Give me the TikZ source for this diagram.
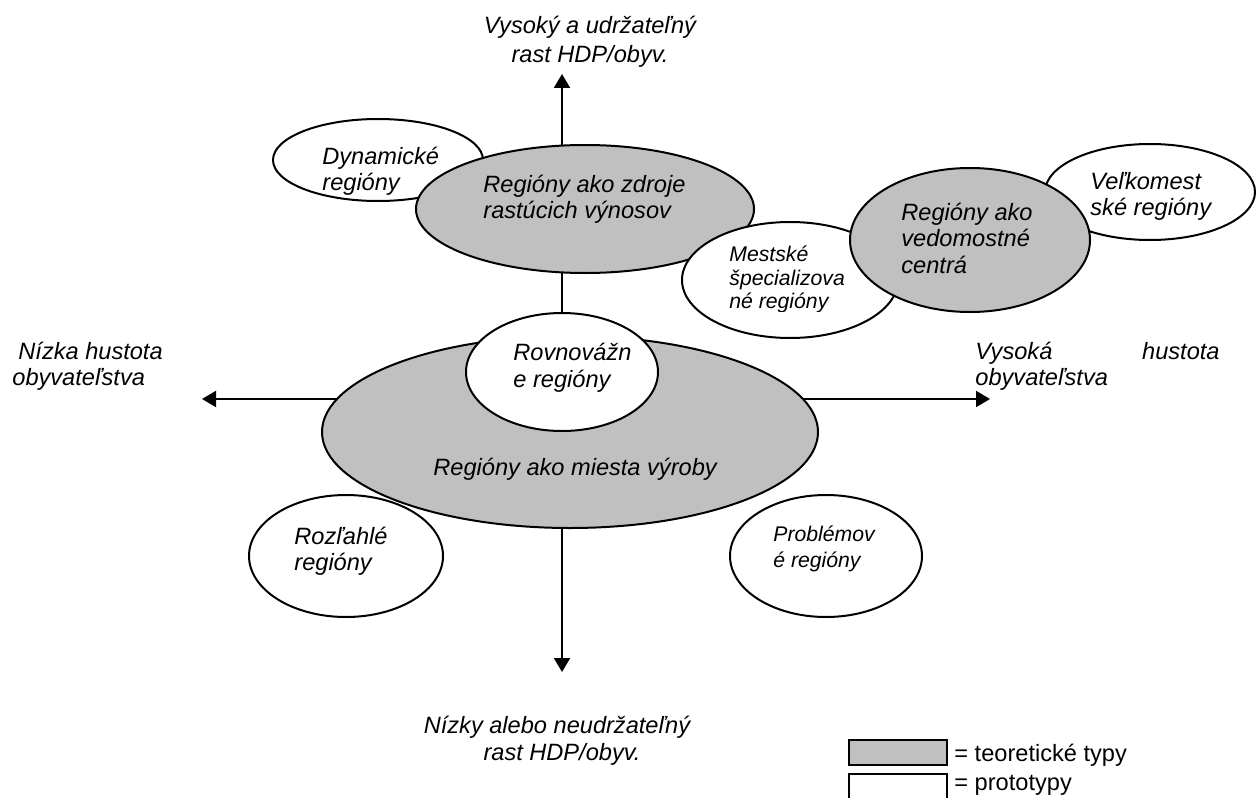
\documentclass[tikz,border=0pt]{standalone}
\usepackage{fontspec}
\setmainfont{Liberation Sans}
\usetikzlibrary{shapes.geometric,arrows.meta}
\definecolor{tgray}{RGB}{192,192,192}
\newcommand\fm{\fontsize{11.8}{13}\selectfont\itshape}
\newcommand\fsm{\fontsize{10.6}{12}\selectfont\itshape}
\newcommand\fup{\fontsize{11.8}{13}\selectfont}
\begin{document}
\begin{tikzpicture}[x=0.5pt,y=-0.5pt,
  oval/.style={ellipse, draw, line width=1pt, inner sep=0pt},
  theo/.style={oval, fill=tgray},
  proto/.style={oval, fill=white},
  txt/.style={anchor=base west, inner sep=0pt, font=\fm},
  stxt/.style={anchor=base west, inner sep=0pt, font=\fsm},
  ctxt/.style={anchor=base, inner sep=0pt, font=\fm},
  axis/.style={line width=1pt, -{Triangle[length=7pt,width=8pt]}},
  legbox/.style={draw, line width=1pt}
]
\useasboundingbox (0,0) rectangle (1257,797);

% axes (drawn first, ellipses cover them)
\coordinate (origin) at (562,399);
\coordinate (tipN) at (562,74);
\coordinate (tipS) at (562,672);
\coordinate (tipW) at (202,399);
\coordinate (tipE) at (990,399);
\draw[axis] (origin) -- (tipN);
\draw[axis] (origin) -- (tipS);
\draw[axis] (origin) -- (tipW);
\draw[axis] (origin) -- (tipE);

% upper group
\node[proto, minimum width=105pt, minimum height=41pt] (dyn) at (378,160) {};
\node[theo, minimum width=169pt, minimum height=64pt] (zdr) at (585,209) {};
\node[proto, minimum width=105pt, minimum height=48pt] (velk) at (1150,192) {};
\node[proto, minimum width=108pt, minimum height=58pt] (mest) at (790,280) {};
\node[theo, minimum width=120pt, minimum height=72pt] (vedo) at (970,240) {};

% central group
\node[theo, minimum width=248pt, minimum height=96pt] (big) at (570,432) {};
\node[proto, minimum width=96pt, minimum height=59pt] (rovn) at (562,372) {};

% lower prototypes
\node[proto, minimum width=97pt, minimum height=61pt] (rozl) at (346,556) {};
\node[proto, minimum width=96pt, minimum height=61pt] (prob) at (826,556) {};

% texts inside ellipses
\node[txt] (dynA) at (322,164) {Dynamické};
\node[txt] (dynB) at (322,190) {regióny};
\node[txt] (zdrA) at (483,192) {Regióny ako zdroje};
\node[txt] (zdrB) at (483,218) {rastúcich výnosov};
\node[txt] (vedA) at (901,220) {Regióny ako};
\node[txt] (vedB) at (901,246) {vedomostné};
\node[txt] (vedC) at (901,273) {centrá};
\node[txt] (velA) at (1090,189) {Veľkomest};
\node[txt] (velB) at (1090,215) {ské regióny};
\node[stxt] (mesA) at (729,261) {Mestské};
\node[stxt] (mesB) at (729,285) {špecializova};
\begin{scope}
  \clip (700,290) rectangle (880,311);
  \node[stxt] (mesC) at (729,308.5) {né regióny};
\end{scope}
\node[txt] (rovA) at (513,360) {Rovnovážn};
\node[txt] (rovB) at (513,387) {e regióny};
\node[txt] (bigA) at (433,475) {Regióny ako miesta výroby};
\node[txt] (rozA) at (294,544) {Rozľahlé};
\node[txt] (rozB) at (294,570) {regióny};
\node[stxt] (proA) at (773,541) {Problémov};
\node[stxt] (proB) at (773,567) {é regióny};

% axis labels
\node[ctxt] (nA) at (590,34) {Vysoký a udržateľný};
\node[ctxt] (nB) at (590,63) {rast HDP/obyv.};
\node[ctxt] (sA) at (557,733) {Nízky alebo neudržateľný};
\node[ctxt] (sB) at (562,760) {rast HDP/obyv.};
\node[txt] (wA) at (18,359) {Nízka hustota};
\node[txt] (wB) at (12,385) {obyvateľstva};
\node[txt] (eA) at (975,359) {Vysoká};
\node[txt, anchor=base east] (eA2) at (1220,359) {hustota};
\node[txt] (eB) at (975,385) {obyvateľstva};

% legend
\draw[legbox, fill=tgray] (849,740) rectangle (947,765);
\draw[legbox, fill=white] (849,774) rectangle (947,799);
\node[anchor=base west, inner sep=0pt, font=\fup] (legA) at (954,761) {= teoretické typy};
\node[anchor=base west, inner sep=0pt, font=\fup] (legB) at (954,790) {= prototypy};
\end{tikzpicture}
\end{document}
